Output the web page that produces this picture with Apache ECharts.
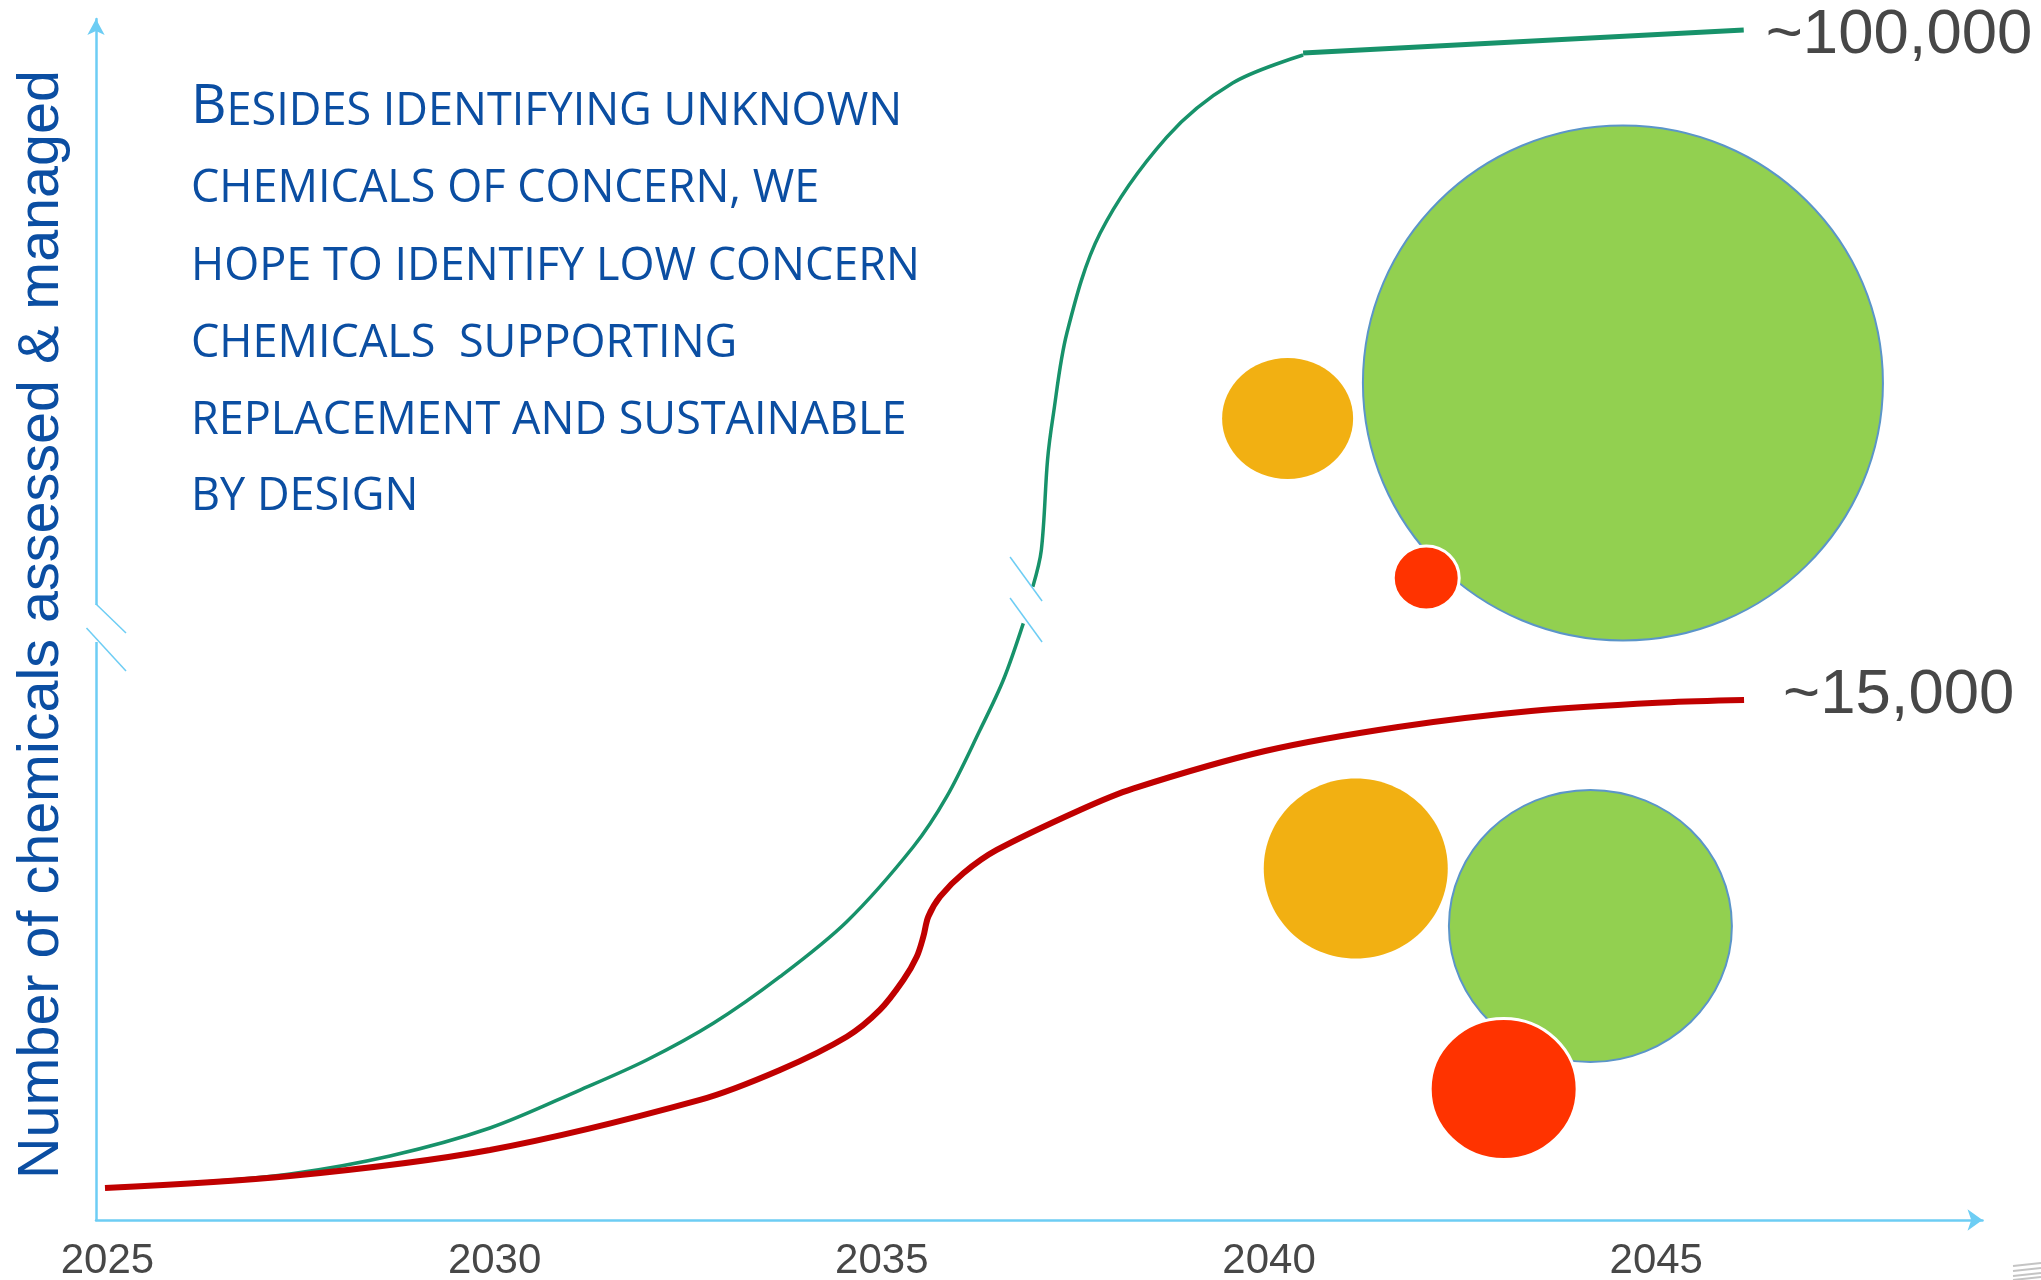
<!DOCTYPE html>
<html>
<head>
<meta charset="utf-8">
<script src="https://cdn.jsdelivr.net/npm/echarts@6/dist/echarts.min.js"></script>
<style>
  html, body { margin: 0; padding: 0; background: #ffffff; }
  #chart { width: 2041px; height: 1280px; }
</style>
</head>
<body>
<div id="chart"></div>
<script>
// ---- Data (x = year, y = relative height on the broken, unlabelled axis 0..100) ----
const xTickLabels = [2025, 2030, 2035, 2040, 2045];

// Lower curve: chemicals of concern (~15,000)
const concernCurve = [
  [2024.969, 2.66], [2027.358, 3.66], [2029.940, 5.83], [2032.652, 10.0],
  [2033.685, 12.49], [2034.547, 15.26], [2034.975, 17.49], [2035.278, 19.98],
  [2035.451, 21.92], [2035.536, 23.59], [2035.601, 25.27], [2035.752, 26.92],
  [2036.052, 28.87], [2036.484, 30.81], [2037.560, 34.14], [2038.244, 35.92],
  [2039.949, 39.05], [2041.666, 41.05], [2043.384, 42.38], [2045.088, 43.09],
  [2046.134, 43.30]
];

// Upper curve: all chemicals (~100,000), broken at the axis break
const allCurveBelowBreak = [
  [2025.059, 2.75], [2026.067, 3.08], [2027.358, 3.83], [2028.649, 5.33],
  [2029.940, 7.66], [2031.102, 10.82], [2031.964, 13.32], [2032.824, 16.38],
  [2033.685, 20.26], [2034.547, 24.84], [2035.407, 31.08], [2035.838, 35.25],
  [2036.268, 40.80], [2036.569, 44.96], [2036.827, 49.68]
];
const allCurveAboveBreak = [
  [2036.95, 52.73], [2037.06, 55.79], [2037.14, 63.28], [2037.21, 66.86],
  [2037.39, 73.86], [2037.82, 82.18], [2038.68, 90.17], [2039.53, 94.67],
  [2040.44, 97.0]
];
const allCurvePlateau = [[2040.44, 97.17], [2046.13, 99.08]];

const endLabels = ['~100,000', '~15,000'];

// Bubbles: [centre year, centre height, width (years), height (units), category]
const bubbleCategories = ['low concern', 'medium concern', 'high concern'];
const bubbles100k = [
  [2040.24, 66.74, 1.692, 10.07, 1],
  [2044.57, 69.69, 6.715, 42.88, 0],
  [2042.03, 53.46, 0.852, 5.33, 2]
];
const bubbles15k = [
  [2041.12, 29.27, 2.376, 14.99, 1],
  [2044.15, 24.48, 3.654, 22.65, 0],
  [2043.03, 10.91, 1.898, 11.74, 2]
];

const textLines = [
  'ESIDES IDENTIFYING UNKNOWN',
  'CHEMICALS OF CONCERN, WE',
  'HOPE TO IDENTIFY LOW CONCERN',
  'CHEMICALS  SUPPORTING',
  'REPLACEMENT AND SUSTAINABLE',
  'BY DESIGN'
];
const yAxisTitle = 'Number of chemicals assessed & managed';

// ---- Styles ----
const AXIS_BLUE = '#6DCDF4';
const TEXT_BLUE = '#0B4EA2';
const GREEN_LINE = '#17926A';
const RED_LINE = '#C00000';
const LABEL_GREY = '#474747';
const NUM_FONT = '"Liberation Sans", Arial, sans-serif';
const SMOOTH = 0.33;
const bubbleFill = ['#92D050', '#F2B012', '#FF3300'];
const bubbleStroke = ['#5B95C9', null, '#FFFFFF'];
const bubbleStrokeW = [2, 0, 3];

function renderBubble(params, api) {
  const c = api.coord([api.value(0), api.value(1)]);
  const s = api.size([api.value(2), api.value(3)]);
  const cat = api.value(4);
  return {
    type: 'ellipse',
    shape: { cx: c[0], cy: c[1], rx: s[0] / 2, ry: s[1] / 2 },
    style: {
      fill: bubbleFill[cat],
      stroke: bubbleStroke[cat],
      lineWidth: bubbleStrokeW[cat]
    }
  };
}

const chart = echarts.init(document.getElementById('chart'), null, { renderer: 'canvas' });

const option = {
  animation: false,
  backgroundColor: '#ffffff',
  grid: { left: 96, right: 58.5, top: 19, bottom: 60, containLabel: false, outerBoundsMode: 'none' },
  xAxis: {
    type: 'value',
    min: 2024.853,
    max: 2049.213,
    axisLine: {
      show: true,
      symbol: ['none', 'arrow'],
      symbolSize: [16, 15],
      lineStyle: { color: AXIS_BLUE, width: 2.5 }
    },
    axisTick: { show: false },
    splitLine: { show: false },
    axisLabel: {
      customValues: xTickLabels,
      formatter: v => String(v),
      fontSize: 42,
      fontFamily: NUM_FONT,
      color: LABEL_GREY,
      margin: 20
    }
  },
  yAxis: {
    type: 'value',
    min: 0,
    max: 100,
    axisLine: {
      show: true,
      symbol: ['none', 'arrow'],
      symbolSize: [13, 16],
      lineStyle: { color: AXIS_BLUE, width: 2.5 }
    },
    axisTick: { show: false },
    splitLine: { show: false },
    axisLabel: { show: false },
    name: yAxisTitle,
    nameLocation: 'middle',
    nameGap: 25,
    nameTextStyle: {
      fontSize: 57.5,
      fontFamily: NUM_FONT,
      color: TEXT_BLUE,
      padding: [0, 10, 0, 0]
    }
  },
  series: [
    {
      type: 'line', data: allCurveBelowBreak, smooth: SMOOTH, symbol: 'none',
      lineStyle: { color: GREEN_LINE, width: 3.5 }, z: 3
    },
    {
      type: 'line', data: allCurveAboveBreak, smooth: SMOOTH, symbol: 'none',
      lineStyle: { color: GREEN_LINE, width: 3.5 }, z: 3
    },
    {
      type: 'line', data: allCurvePlateau, symbol: 'none',
      lineStyle: { color: GREEN_LINE, width: 5 }, z: 3,
      endLabel: {
        show: true, formatter: endLabels[0], distance: 22, offset: [0, 5],
        fontSize: 63.5, fontFamily: NUM_FONT, color: LABEL_GREY
      }
    },
    {
      type: 'line', data: concernCurve, smooth: SMOOTH, symbol: 'none',
      lineStyle: { color: RED_LINE, width: 6 }, z: 4,
      endLabel: {
        show: true, formatter: endLabels[1], distance: 39, offset: [0, -4],
        fontSize: 63.5, fontFamily: NUM_FONT, color: LABEL_GREY
      }
    },
    {
      type: 'custom', name: 'bubbles ~100,000', data: bubbles100k,
      renderItem: renderBubble, encode: { x: 0, y: 1 }, z: 5
    },
    {
      type: 'custom', name: 'bubbles ~15,000', data: bubbles15k,
      renderItem: renderBubble, encode: { x: 0, y: 1 }, z: 5
    }
  ]
};
chart.setOption(option);

// ---- Decorations: axis break marks, text block ----
const TXT_FONT = '"Open Sans", "Noto Sans", sans-serif';
const lineCenters = [107, 189, 267, 344, 421, 497];
const graphics = [];

// y-axis break
graphics.push({ type: 'rect', z: 100, shape: { x: 92, y: 605, width: 8, height: 37 }, style: { fill: '#ffffff' } });
graphics.push({ type: 'line', z: 101, shape: { x1: 96, y1: 604, x2: 126, y2: 633 }, style: { stroke: AXIS_BLUE, lineWidth: 1.5 } });
graphics.push({ type: 'line', z: 101, shape: { x1: 86.5, y1: 628, x2: 126, y2: 671 }, style: { stroke: AXIS_BLUE, lineWidth: 1.5 } });

// curve break marks, anchored at the gap of the upper curve
const gapA = chart.convertToPixel({ gridIndex: 0 }, allCurveBelowBreak[allCurveBelowBreak.length - 1]);
const gapB = chart.convertToPixel({ gridIndex: 0 }, allCurveAboveBreak[0]);
const gm = [(gapA[0] + gapB[0]) / 2, (gapA[1] + gapB[1]) / 2];
graphics.push({ type: 'line', z: 101, shape: { x1: gm[0] - 18, y1: gm[1] - 48, x2: gm[0] + 14, y2: gm[1] - 4 }, style: { stroke: AXIS_BLUE, lineWidth: 1.5 } });
graphics.push({ type: 'line', z: 101, shape: { x1: gm[0] - 18, y1: gm[1] - 7, x2: gm[0] + 14, y2: gm[1] + 37 }, style: { stroke: AXIS_BLUE, lineWidth: 1.5 } });

// text block
textLines.forEach((t, i) => {
  graphics.push({
    type: 'text', z: 100, x: 191, y: lineCenters[i],
    style: i === 0 ? {
      text: '{b|B}{s|' + t + '}',
      rich: {
        b: { fontSize: 55, fontFamily: TXT_FONT, fill: TEXT_BLUE, verticalAlign: 'bottom' },
        s: { fontSize: 45, fontFamily: TXT_FONT, fill: TEXT_BLUE, verticalAlign: 'bottom' }
      },
      verticalAlign: 'middle', align: 'left'
    } : {
      text: t, fontSize: 45, fontFamily: TXT_FONT, fill: TEXT_BLUE,
      verticalAlign: 'middle', align: 'left'
    }
  });
});

// small corner mark
[1265, 1270, 1275, 1279].forEach(y => {
  graphics.push({ type: 'line', z: 100, shape: { x1: 2013, y1: y + 1, x2: 2041, y2: y - 2 }, style: { stroke: '#c4c4c4', lineWidth: 2 } });
});

chart.setOption({ graphic: graphics });
</script>
</body>
</html>
